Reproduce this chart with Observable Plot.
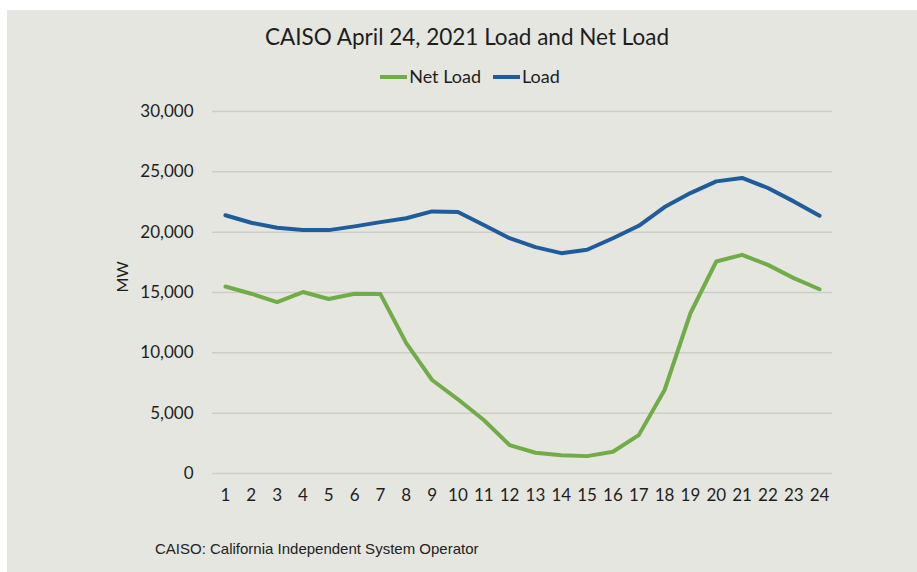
<!DOCTYPE html>
<html>
<head>
<meta charset="utf-8">
<script src="https://cdn.jsdelivr.net/npm/d3@7"></script>
<script src="https://cdn.jsdelivr.net/npm/@observablehq/plot@0.6"></script>
<style>
  body { margin: 0; background: #ffffff; }
  #wrap { position: absolute; left: 7px; top: 10px; width: 910px; height: 562px; background: #e5e6e0; font-family: Lato, "Open Sans", sans-serif; color: #1e1e1e; overflow: hidden; }
  #title { position: absolute; left: 0; width: 920px; top: 16px; text-align: center; font-size: 22.5px; line-height: 22px; }
  #legend { position: absolute; left: 0; width: 926px; top: 57px; text-align: center; font-size: 18px; line-height: 18px; }
  .item { display: inline-block; margin: 0 6px; }
  .sw { display: inline-block; width: 27px; height: 4px; vertical-align: middle; margin-right: 2px; position: relative; top: -1px; }
  #chart { position: absolute; left: 0; top: 85px; }
  #caption { position: absolute; left: 148px; top: 531px; font-family: "Liberation Sans", Arial, sans-serif; font-size: 15px; line-height: 15px; color: #222; }
</style>
</head>
<body>
<div id="wrap">
  <div id="title">CAISO April 24, 2021 Load and Net Load</div>
  <div id="legend"></div>
  <div id="chart"></div>
  <div id="caption">CAISO: California Independent System Operator</div>
</div>
<script>
const hours = [1, 2, 3, 4, 5, 6, 7, 8, 9, 10, 11, 12, 13, 14, 15, 16, 17, 18, 19, 20, 21, 22, 23, 24];
const netLoad = [15500, 14900, 14210, 15040, 14460, 14900, 14870, 10800, 7750, 6150, 4430, 2350, 1720, 1520, 1440, 1800, 3180, 6920, 13280, 17570, 18120, 17290, 16190, 15270];
const load = [21400, 20780, 20360, 20170, 20170, 20480, 20830, 21150, 21720, 21670, 20600, 19500, 18760, 18260, 18540, 19500, 20530, 22080, 23240, 24210, 24490, 23660, 22550, 21360];
const seriesNames = ["Net Load", "Load"];
const seriesColors = ["#70ad47", "#1f5c9c"];
const yTicks = [0, 5000, 10000, 15000, 20000, 25000, 30000];
const yLabel = "MW";

const data = [];
hours.forEach((h, i) => data.push({hour: h, value: netLoad[i], series: seriesNames[0]}));
hours.forEach((h, i) => data.push({hour: h, value: load[i], series: seriesNames[1]}));

const legend = document.getElementById("legend");
seriesNames.forEach((name, i) => {
  const item = document.createElement("span");
  item.className = "item";
  const sw = document.createElement("span");
  sw.className = "sw";
  sw.style.background = seriesColors[i];
  item.appendChild(sw);
  item.appendChild(document.createTextNode(name));
  legend.appendChild(item);
});

const chart = Plot.plot({
  width: 910,
  height: 418,
  marginLeft: 205,
  marginRight: 85,
  marginTop: 16,
  marginBottom: 40,
  style: {background: "transparent", fontFamily: "Lato, 'Open Sans', sans-serif", fontSize: "17px", color: "#1e1e1e"},
  x: {domain: [0.5, 24.5], ticks: hours, tickFormat: d => String(d), tickSize: 0, tickPadding: 15, label: null},
  y: {domain: [0, 30000], ticks: yTicks, tickFormat: d3.format(","), tickSize: 0, tickPadding: 19, label: null},
  color: {domain: seriesNames, range: seriesColors},
  marks: [
    Plot.ruleY(yTicks, {stroke: "#cdcec8", strokeWidth: 1.5}),
    Plot.line(data, {x: "hour", y: "value", z: "series", stroke: "series", strokeWidth: 4, strokeLinejoin: "round", strokeLinecap: "round"}),
    Plot.text([yLabel], {text: d => d, frameAnchor: "left", dx: -90, rotate: -90, fontSize: 16, fill: "#1e1e1e"})
  ]
});
document.getElementById("chart").appendChild(chart);
</script>
</body>
</html>
